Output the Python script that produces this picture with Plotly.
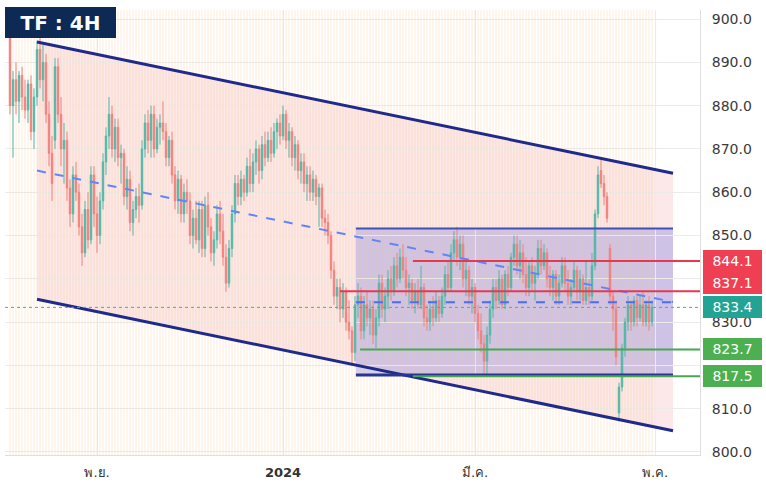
import plotly.graph_objects as go

# ---------------- data (4H candles) ----------------
opens = [896, 880, 886, 881, 887, 882, 879, 885, 874, 882,
         893, 886, 890, 878, 869, 872, 889, 878, 870, 872,
         861, 855, 864, 860, 852, 846, 856, 849, 864, 855,
         850, 858, 867, 873, 878, 870, 875, 868, 869, 859,
         863, 853, 856, 859, 857, 870, 876, 872, 878, 870,
         875, 876, 874, 868, 872, 864, 858, 863, 855, 860,
         858, 850, 854, 849, 856, 847, 857, 852, 846, 849,
         855, 851, 845, 839, 847, 855, 862, 859, 863, 860,
         866, 862, 867, 870, 865, 871, 868, 872, 869, 874,
         876, 873, 878, 872, 874, 868, 871, 865, 867, 862,
         864, 860, 863, 859, 861, 854, 853, 850, 842, 836,
         838, 833, 837, 830, 828, 823, 834, 836, 828, 834,
         831, 833, 827, 831, 839, 833, 836, 840, 837, 843,
         840, 845, 842, 838, 839, 835, 837, 834, 838, 831,
         830, 833, 831, 835, 832, 836, 841, 838, 846, 849,
         845, 848, 840, 842, 836, 838, 832, 828, 825, 821,
         827, 833, 838, 835, 840, 834, 841, 838, 845, 848,
         843, 846, 841, 838, 843, 839, 841, 847, 843, 846,
         840, 838, 841, 836, 839, 843, 839, 836, 838, 842,
         837, 840, 835, 838, 836, 843, 855, 865, 862, 859,
         847, 836, 833, 809, 815, 824, 830, 834, 830, 835,
         831, 834, 830, 834, 830]
highs = [899, 888, 890, 888, 889, 886, 886, 887, 884, 895,
         896, 894, 892, 881, 873, 891, 891, 882, 876, 874,
         863, 866, 867, 862, 855, 858, 860, 866, 866, 859,
         860, 869, 875, 882, 880, 877, 877, 871, 870, 866,
         865, 858, 861, 862, 872, 878, 879, 880, 880, 877,
         878, 881, 876, 873, 874, 866, 865, 864, 862, 863,
         860, 856, 858, 858, 858, 859, 860, 854, 851, 857,
         858, 855, 848, 849, 857, 864, 864, 865, 864, 868,
         870, 869, 872, 871, 873, 874, 874, 875, 876, 877,
         878, 880, 879, 876, 875, 873, 872, 869, 869, 866,
         866, 865, 864, 862, 862, 856, 855, 851, 844, 840,
         840, 839, 838, 835, 829, 836, 839, 838, 836, 837,
         835, 835, 833, 841, 841, 838, 842, 843, 845, 846,
         847, 848, 845, 841, 840, 839, 840, 843, 839, 834,
         835, 836, 837, 836, 838, 843, 844, 848, 851, 852,
         850, 850, 844, 843, 840, 839, 834, 832, 827, 829,
         835, 840, 840, 842, 841, 842, 843, 846, 850, 850,
         849, 848, 845, 844, 845, 843, 849, 849, 848, 847,
         843, 842, 842, 841, 845, 845, 842, 840, 844, 843,
         842, 841, 844, 840, 846, 856, 866, 868, 864, 860,
         848, 837, 835, 816, 825, 831, 836, 835, 836, 836,
         836, 837, 835, 836, 835]
lows = [878, 868, 878, 876, 879, 877, 876, 872, 870, 880,
        884, 881, 876, 866, 858, 870, 876, 866, 862, 858,
        852, 853, 858, 850, 843, 845, 847, 848, 852, 846,
        848, 856, 864, 870, 868, 867, 866, 862, 857, 856,
        851, 850, 854, 853, 856, 868, 869, 868, 868, 869,
        871, 872, 866, 866, 862, 856, 855, 853, 853, 855,
        848, 847, 848, 846, 845, 845, 850, 844, 843, 847,
        848, 843, 837, 838, 845, 853, 857, 857, 858, 859,
        860, 860, 864, 862, 863, 866, 867, 867, 868, 870,
        871, 872, 870, 868, 866, 865, 863, 862, 860, 858,
        858, 858, 857, 852, 852, 850, 848, 840, 834, 833,
        830, 831, 828, 826, 820, 821, 831, 826, 826, 829,
        827, 825, 824, 829, 831, 830, 833, 835, 836, 838,
        839, 840, 836, 834, 833, 832, 833, 833, 829, 828,
        828, 829, 830, 830, 831, 834, 837, 837, 844, 843,
        842, 838, 836, 834, 832, 830, 826, 823, 818, 818,
        825, 831, 833, 834, 833, 833, 836, 837, 843, 841,
        840, 839, 836, 836, 837, 835, 840, 841, 842, 838,
        836, 835, 834, 834, 838, 837, 834, 834, 837, 835,
        835, 834, 834, 834, 835, 842, 854, 861, 857, 853,
        834, 828, 820, 807, 814, 822, 828, 828, 829, 829,
        830, 829, 829, 828, 829]
closes = [880, 886, 881, 887, 882, 879, 885, 874, 882, 893,
          886, 890, 878, 869, 862, 889, 878, 870, 872, 861,
          855, 864, 860, 852, 846, 856, 849, 864, 855, 850,
          858, 867, 873, 878, 870, 875, 868, 869, 859, 863,
          853, 856, 859, 857, 870, 876, 872, 878, 870, 875,
          876, 874, 868, 872, 864, 858, 863, 855, 860, 858,
          850, 854, 849, 856, 847, 857, 852, 846, 849, 855,
          851, 845, 839, 847, 855, 862, 859, 863, 860, 866,
          862, 867, 870, 865, 871, 868, 872, 869, 874, 876,
          873, 878, 872, 874, 868, 871, 865, 867, 862, 864,
          860, 863, 859, 861, 854, 853, 850, 842, 836, 838,
          833, 837, 830, 828, 823, 834, 836, 828, 834, 831,
          833, 827, 831, 839, 833, 836, 840, 837, 843, 840,
          845, 842, 838, 839, 835, 837, 834, 838, 831, 830,
          833, 831, 835, 832, 836, 841, 838, 846, 849, 845,
          848, 840, 842, 836, 838, 832, 828, 825, 821, 827,
          833, 838, 835, 840, 834, 841, 838, 845, 848, 843,
          846, 841, 838, 843, 839, 841, 847, 843, 846, 840,
          838, 841, 836, 839, 843, 839, 836, 838, 842, 837,
          840, 835, 838, 836, 843, 855, 864, 862, 859, 854,
          836, 833, 822, 815, 824, 830, 834, 830, 835, 831,
          834, 830, 834, 830, 833.4]
bar_index = list(range(len(closes)))

# x-axis month labels (placed at bar index)
tick_positions = [29, 91, 155, 215]
tick_labels = ["พ.ย.", "<b>2024</b>", "มี.ค.", "พ.ค."]
y_ticks = [800, 810, 820, 830, 840, 850, 860, 870, 880, 890, 900]
y_tick_text = ["800.0", "810.0", "", "830.0", "", "850.0", "860.0", "870.0", "880.0", "890.0", "900.0"]

# drawing tools (bar index, price)
channel_x = [9, 221]
channel_upper = [894.7, 864.4]
channel_lower = [835.3, 804.9]
channel_mid = [865.0, 834.65]

range_box_x = [115.3, 221]
range_box_y = [817.8, 851.6]
range_box_mid = 834.6

level_values = [844.1, 837.1, 823.7, 817.5]
level_starts = [134.3, 110, 116.7, 134.3]
level_kinds = ["res", "res", "sup", "sup"]
last_price = 833.4
label_values = [844.1, 837.1, 833.4, 823.7, 817.5]
label_prices = [844.1, 839.1, 833.5, 823.7, 817.6]
label_kinds = ["res", "res", "last", "sup", "sup"]

x_range = [-1.67, 230]
y_range = [799.3, 902.1]

# ---------------- styles ----------------
C_UP = "#52b7a5"
C_DN = "#f2807b"
C_RES = "#e8384f"
C_SUP = "#47a84f"
C_LAST = "#3bb3a3"
C_CH = "#1f2a8a"
box_colors = {"res": "#ef3f52", "sup": "#4caf50", "last": "#22a394"}
line_colors = {"res": C_RES, "sup": C_SUP}

fig = go.Figure()

# background vertical stripes (one per bar)
fig.add_trace(go.Bar(
    x=bar_index, y=[y_range[1] - y_range[0]] * len(bar_index), base=y_range[0],
    width=0.5, marker=dict(color="rgba(250,195,145,0.17)", line=dict(width=0)),
    hoverinfo="skip", showlegend=False))

fig.add_trace(go.Candlestick(
    x=bar_index, open=opens, high=highs, low=lows, close=closes,
    increasing=dict(line=dict(color=C_UP, width=1), fillcolor=C_UP),
    decreasing=dict(line=dict(color=C_DN, width=1), fillcolor=C_DN),
    whiskerwidth=0, showlegend=False))

# channel fill
path = (f"M {channel_x[0]},{channel_upper[0]} L {channel_x[1]},{channel_upper[1]} "
        f"L {channel_x[1]},{channel_lower[1]} L {channel_x[0]},{channel_lower[0]} Z")
fig.add_shape(type="path", path=path, xref="x", yref="y",
              fillcolor="rgba(242,140,145,0.20)", line=dict(width=0), layer="below")
# range box fill
fig.add_shape(type="rect", x0=range_box_x[0], x1=range_box_x[1], y0=range_box_y[0], y1=range_box_y[1],
              fillcolor="rgba(100,110,225,0.30)", line=dict(width=0), layer="below")

# channel lines
fig.add_shape(type="line", x0=channel_x[0], x1=channel_x[1], y0=channel_upper[0], y1=channel_upper[1],
              line=dict(color=C_CH, width=3), layer="above")
fig.add_shape(type="line", x0=channel_x[0], x1=channel_x[1], y0=channel_lower[0], y1=channel_lower[1],
              line=dict(color=C_CH, width=3), layer="above")
fig.add_shape(type="line", x0=channel_x[0], x1=channel_x[1], y0=channel_mid[0], y1=channel_mid[1],
              line=dict(color="#6185f7", width=2, dash="dash"), layer="above")

# range box borders
fig.add_shape(type="line", x0=range_box_x[0], x1=range_box_x[1], y0=range_box_y[1], y1=range_box_y[1],
              line=dict(color="#3f51b5", width=2), layer="above")
fig.add_shape(type="line", x0=range_box_x[0], x1=range_box_x[1], y0=range_box_y[0], y1=range_box_y[0],
              line=dict(color="#283593", width=3), layer="above")
fig.add_shape(type="line", x0=range_box_x[0], x1=range_box_x[1], y0=range_box_mid, y1=range_box_mid,
              line=dict(color="#4a6cf7", width=2, dash="dash"), layer="above")

# last price dotted line
fig.add_shape(type="line", x0=x_range[0], x1=x_range[1], y0=last_price, y1=last_price,
              line=dict(color=C_LAST, width=1, dash="dot"), layer="above")

# support / resistance levels
for v, s, k in zip(level_values, level_starts, level_kinds):
    fig.add_shape(type="line", x0=s, x1=x_range[1], y0=v, y1=v,
                  line=dict(color=line_colors[k], width=2), layer="above")

# price labels on the right axis
for v, p, k in zip(label_values, label_prices, label_kinds):
    fig.add_annotation(xref="paper", x=1, xanchor="left", yanchor="middle", xshift=3, yref="y", y=p,
                       text=f"{v:.1f}", showarrow=False, bgcolor=box_colors[k],
                       font=dict(color="white", size=14, family="DejaVu Sans"),
                       width=57, height=20, borderpad=1, borderwidth=0)

# TF badge
fig.add_annotation(xref="paper", yref="paper", x=0, y=1, xanchor="left", yanchor="top", yshift=3,
                   text="<b>TF : 4H</b>", showarrow=False, bgcolor="#0c2a54",
                   font=dict(color="white", size=20, family="DejaVu Sans"),
                   width=107, height=27, borderpad=2, borderwidth=0)

fig.update_layout(
    width=766, height=491,
    margin=dict(l=5, r=66, t=10, b=36),
    paper_bgcolor="white", plot_bgcolor="white",
    showlegend=False, bargap=0,
    xaxis=dict(range=x_range, tickvals=tick_positions, ticktext=tick_labels,
               showgrid=True, gridcolor="#ebebeb", zeroline=False,
               rangeslider=dict(visible=False), showline=True, linecolor="#dedede",
               ticks="", ticklabelstandoff=5,
               tickfont=dict(size=13, color="#333333", family="DejaVu Sans")),
    yaxis=dict(range=y_range, side="right", tickvals=y_ticks, ticktext=y_tick_text,
               showgrid=True, gridcolor="#ebebeb", zeroline=False, automargin=False,
               showline=True, linecolor="#dedede", ticks="", ticklabelstandoff=8,
               tickfont=dict(size=14, color="#3a3a3a", family="DejaVu Sans")),
)

fig.write_html("out.html", config={"displayModeBar": False},
               post_script="document.body.style.margin='0';")
